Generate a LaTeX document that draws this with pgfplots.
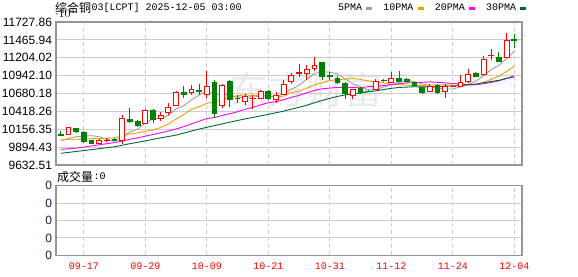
\documentclass[border=0pt]{standalone}
\usepackage{fontspec}
\usepackage{pgfplots}
\usepackage{pgfplotstable}
\pgfplotsset{compat=1.18}
\setmainfont{Liberation Sans}
\newfontfamily\cjk{Noto Sans CJK SC}
\newfontfamily\mono{Liberation Mono}
\definecolor{upred}{RGB}{255,0,0}
\definecolor{downgreen}{RGB}{0,128,0}
\definecolor{ma5c}{RGB}{160,160,160}
\definecolor{ma10c}{RGB}{240,160,0}
\definecolor{ma20c}{RGB}{255,0,255}
\definecolor{ma30c}{RGB}{0,102,51}
\definecolor{gridc}{RGB}{205,205,205}
\definecolor{framec}{RGB}{150,150,150}
\definecolor{wm}{RGB}{234,234,238}
\definecolor{navy}{RGB}{20,30,80}

\pgfdeclareplotmark{candle}{%
  \pgfpathmoveto{\pgfqpoint{0pt}{\cLo pt}}%
  \pgfpathlineto{\pgfqpoint{0pt}{\cHi pt}}%
  \pgfusepathqstroke
  \pgfpathrectangle{\pgfqpoint{-2.4pt}{0pt}}{\pgfqpoint{4.8pt}{\cBh pt}}%
  \pgfusepathqfillstroke
}

% rising candles (red, hollow)
\pgfplotstableread{
i o h l c
2 10086 10193 10076 10183
6 9950 10008 9940 9999
7 9990 10023 9965 9996
9 9999 10363 9940 10310
12 10242 10451 10232 10436
14 10310 10402 10276 10359
15 10402 10543 10363 10475
16 10505 10720 10495 10699
18 10689 10801 10655 10738
20 10665 11010 10607 10777
22 10510 10826 10461 10801
25 10558 10670 10509 10631
26 10604 10665 10446 10607
27 10607 10728 10597 10704
29 10592 10704 10534 10655
30 10665 10874 10655 10811
31 10850 10981 10826 10942
32 10981 11108 10923 10986
33 10981 11093 10884 11035
34 11044 11215 11010 11093
39 10655 10753 10597 10738
42 10738 10894 10728 10864
44 10845 10991 10830 10903
49 10704 10826 10704 10777
51 10714 10826 10617 10787
52 10785 10800 10775 10790
53 10777 10957 10770 10840
54 10850 11035 10840 10957
56 10962 11229 10947 11181
57 11235 11336 11166 11239
59 11205 11570 11200 11458
}\upc

% falling candles (green, filled)
\pgfplotstableread{
i o h l c
1 10075 10135 10072 10072
3 10169 10179 10096 10125
4 10115 10135 9950 9979
5 9994 9999 9935 9950
8 10013 10023 9979 9989
10 10305 10475 10252 10276
11 10276 10290 10193 10213
13 10436 10446 10252 10300
17 10699 10796 10621 10665
19 10728 10816 10655 10709
21 10835 10874 10325 10388
23 10860 10874 10485 10597
24 10611 10655 10534 10602
28 10709 10738 10582 10607
35 11132 11142 10884 10932
36 10947 10996 10874 10923
37 10903 10933 10826 10845
38 10830 10845 10597 10684
40 10750 10777 10680 10689
41 10716 10728 10700 10714
43 10875 10899 10845 10870
45 10898 11010 10850 10864
46 10884 10913 10830 10855
47 10835 10850 10777 10791
48 10772 10782 10670 10689
50 10801 10826 10680 10689
55 10981 10996 10918 10932
58 11215 11288 11150 11156
60 11470 11545 11346 11458
}\downc

% moving averages
\pgfplotstableread{
i ma5 ma10 ma20 ma30
1 9984 10000 9862 9804
2 10023 10005 9870 9817
3 10047 10010 9880 9831
4 10057 10015 9895 9844
5 10062 10018 9912 9858
6 10047 10020 9928 9872
7 10010 10025 9945 9886
8 9983 10030 9962 9900
9 10049 10060 9985 9922
10 10114 10088 10010 9945
11 10157 10102 10030 9965
12 10245 10127 10055 9985
13 10307 10145 10080 10008
14 10317 10183 10105 10030
15 10357 10235 10130 10050
16 10454 10305 10160 10070
17 10500 10372 10195 10100
18 10587 10447 10235 10130
19 10657 10487 10275 10158
20 10718 10537 10313 10185
21 10655 10555 10328 10210
22 10683 10591 10359 10235
23 10654 10621 10383 10260
24 10633 10645 10414 10285
25 10604 10661 10448 10308
26 10648 10652 10478 10330
27 10628 10655 10514 10352
28 10630 10642 10545 10375
29 10641 10637 10562 10398
30 10677 10640 10589 10422
31 10744 10696 10625 10451
32 10800 10714 10653 10478
33 10886 10758 10689 10508
34 10973 10807 10726 10545
35 10998 10837 10749 10578
36 10994 10869 10760 10609
37 10966 10883 10769 10637
38 10895 10891 10766 10660
39 10824 10899 10768 10674
40 10776 10887 10764 10688
41 10734 10864 10780 10705
42 10738 10852 10783 10719
43 10775 10835 10797 10738
44 10808 10816 10812 10756
45 10843 10809 10823 10769
46 10871 10803 10836 10774
47 10857 10797 10840 10779
48 10820 10798 10844 10777
49 10795 10802 10850 10779
50 10760 10802 10844 10776
51 10747 10809 10836 10790
52 10746 10802 10827 10789
53 10777 10799 10817 10797
54 10813 10804 10810 10809
55 10861 10811 10810 10819
56 10940 10843 10823 10838
57 11030 10888 10843 10856
58 11093 10935 10866 10874
59 11193 11003 10902 10901
60 11298 11080 10941 10923
}\matab

\begin{document}
\begin{tikzpicture}
\path[use as bounding box] (0pt,0pt) rectangle (578pt,276pt);
% faint watermark
\node[text=wm] at (306pt,186pt) {\cjk\fontsize{38}{38}\selectfont 东方财富};
% title and volume caption
\node[anchor=west, inner sep=0pt] at (55pt,268pt) {\cjk\fontsize{12}{14}\selectfont 综合铜};
\node[anchor=west, inner sep=0pt] at (91.5pt,268pt) {\mono\fontsize{10}{12}\selectfont 03[LCPT] 2025-12-05 03:00};
\node[anchor=west, inner sep=0pt] at (57pt,99.3pt) {\cjk\fontsize{12}{14}\selectfont 成交量};
\node[anchor=west, inner sep=0pt] at (93.5pt,99.3pt) {\mono\fontsize{10}{12}\selectfont :0};

\begin{axis}[
  at={(56pt,111pt)}, anchor=south west,
  scale only axis, width=466pt, height=143pt,
  xmin=0.39, xmax=61, ymin=9632.51, ymax=11727.86,
  axis line style={draw=framec, line width=1.1pt},
  xtick={4,12,20,28,36,44,52,60}, xticklabel=\empty,
  ytick={9632.51,9894.43,10156.35,10418.26,10680.18,10942.10,11204.02,11465.94,11727.86},
  yticklabels={9632.51,9894.43,10156.35,10418.26,10680.18,10942.10,11204.02,11465.94,11727.86},
  major tick length=0pt,
  xmajorgrids, ymajorgrids,
  x grid style={gridc, line width=0.9pt, dash pattern=on 4pt off 3pt},
  y grid style={gridc, line width=0.9pt},
  yticklabel style={font=\fontsize{12}{14}\selectfont, inner sep=0pt, xshift=-3.8pt},
  legend columns=4,
  legend plot pos=right,
  legend image code/.code={\draw[#1, line width=3.4pt] (0pt,0pt) -- (6pt,0pt);},
  legend style={at={(0.6052,1.0958)}, anchor=west, draw=none, fill=none,
    inner sep=0pt, outer sep=0pt, column sep=2.5pt,
    nodes={inner sep=0pt},
    font=\mono\fontsize{10}{12}\selectfont,
    /tikz/every even column/.append style={column sep=9.5pt}},
]
\addplot[only marks, mark=candle, forget plot,
  mark options={draw=upred, fill=white, line width=0.9pt},
  visualization depends on={(\thisrow{o}-\thisrow{c})*0.0682463 \as \cBh},
  visualization depends on={(\thisrow{h}-\thisrow{c})*0.0682463 \as \cHi},
  visualization depends on={(\thisrow{l}-\thisrow{c})*0.0682463 \as \cLo}]
  table[x=i, y=c] {\upc};
\addplot[only marks, mark=candle, forget plot,
  mark options={draw=downgreen, fill=downgreen, line width=0.9pt},
  visualization depends on={(\thisrow{o}-\thisrow{c})*0.0682463 \as \cBh},
  visualization depends on={(\thisrow{h}-\thisrow{c})*0.0682463 \as \cHi},
  visualization depends on={(\thisrow{l}-\thisrow{c})*0.0682463 \as \cLo}]
  table[x=i, y=c] {\downc};
\addplot[ma5c, line width=0.9pt, no marks] table[x=i, y=ma5] {\matab};
\addlegendentry{5PMA}
\addplot[ma10c, line width=0.9pt, no marks] table[x=i, y=ma10] {\matab};
\addlegendentry{10PMA}
\addplot[ma20c, line width=0.9pt, no marks] table[x=i, y=ma20] {\matab};
\addlegendentry{20PMA}
\addplot[ma30c, line width=0.9pt, no marks] table[x=i, y=ma30] {\matab};
\addlegendentry{30PMA}
\end{axis}

\begin{axis}[
  at={(56pt,20.7pt)}, anchor=south west,
  scale only axis, width=466pt, height=69.6pt,
  xmin=0.39, xmax=61, ymin=0, ymax=4,
  axis line style={draw=framec, line width=1.1pt},
  xtick={4,12,20,28,36,44,52,60},
  xticklabels={09-17,09-29,10-09,10-21,10-31,11-12,11-24,12-04},
  ytick={0,1,2,3,4}, yticklabels={0,0,0,0,0},
  major tick length=0pt,
  xmajorgrids, ymajorgrids,
  x grid style={gridc, line width=0.9pt, dash pattern=on 4pt off 3pt},
  y grid style={gridc, line width=0.9pt},
  yticklabel style={font=\fontsize{12}{14}\selectfont, text=navy, inner sep=0pt, xshift=-3.8pt},
  xticklabel style={font=\mono\fontsize{10}{12}\selectfont, text=upred, anchor=center, inner sep=0pt, yshift=-10.7pt},
]
\addplot[draw=none, no marks] coordinates {(1,0) (60,0)};
\end{axis}
\end{tikzpicture}
\end{document}
